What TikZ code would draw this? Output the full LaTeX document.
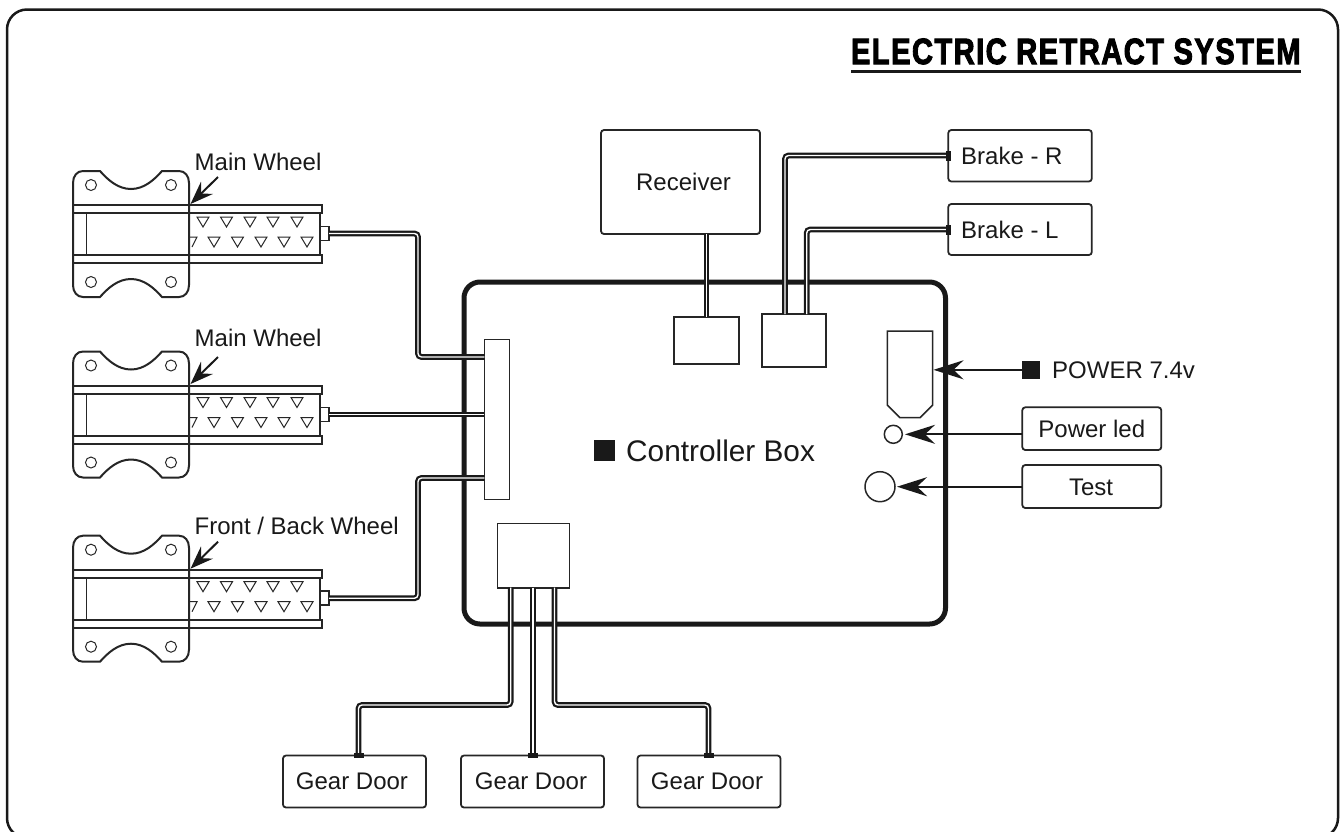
\documentclass[tikz,border=0pt]{standalone}
\usepackage{fontspec}
\setmainfont{Liberation Sans}
\usetikzlibrary{arrows.meta}
\tikzset{
  x=1pt,y=-1pt,
  lbl/.style={font=\fontsize{24}{26}\selectfont,inner sep=0pt,text=black!90},
  rbox/.style={draw=black!85,line width=1.8pt,rounded corners=3pt,inner sep=0pt,outer sep=0pt},
  sqbox/.style={draw=black!85,line width=1.5pt,inner sep=0pt,outer sep=0pt},
  wire/.style={draw=black!90,line width=2.2pt,double=white,double distance=1.4pt,rounded corners=3.5pt},
  vplug/.style={fill=black!90,inner sep=0pt,minimum width=5pt,minimum height=10pt},
  hplug/.style={fill=black!90,inner sep=0pt,minimum width=10pt,minimum height=5pt},
  arr/.style={draw=black!90,line width=2pt,-{Stealth[length=30pt,width=19pt,inset=10pt]}},
  warr/.style={draw=black!90,line width=2pt,-{Stealth[length=23pt,width=17pt,inset=8pt]}},
}
\newcommand{\wheelunit}[1]{%
\begin{scope}[shift={(0,#1)},black!85]
  \draw[line width=2pt] (83,171) -- (100,171) .. controls (108,180) and (118,189) .. (131,189) .. controls (144,189) and (154,180) .. (162,171) -- (179,171) .. controls (185,171) and (189,176) .. (189,183)
    -- (189,285) .. controls (189,292) and (185,297) .. (179,297) -- (162,297) .. controls (154,288) and (144,279) .. (131,279) .. controls (118,279) and (108,288) .. (100,297) -- (83,297) .. controls (77,297) and (73,292) .. (73,285) -- (73,183) .. controls (73,176) and (77,171) .. (83,171) -- cycle;
  \foreach \cx/\cy in {91/185,171/185,91/282,171/282} \draw[line width=1pt] (\cx,\cy) circle[radius=5.5];
  \draw[line width=2pt] (73,205) rectangle (322,213);
  \draw[line width=2pt] (73,255) rectangle (322,263);
  \draw[line width=1.5pt] (320,213) -- (320,255);
  \draw[line width=0.8pt] (86,213) -- (86,255);
  \foreach \tx in {203,226.5,250,273,297} \draw[line width=1pt] (\tx-6,217) -- (\tx+6,217) -- (\tx,227) -- cycle;
  \foreach \tx in {214,237.5,261,284,307} \draw[line width=1pt] (\tx-6,237) -- (\tx+6,237) -- (\tx,247) -- cycle;
  \draw[line width=1pt] (190,237) -- (197,237) -- (192,247);
\end{scope}}
\begin{document}
\begin{tikzpicture}
\useasboundingbox (0,0) rectangle (1340,831);
\fill[white] (0,0) rectangle (1340,831);
\begin{scope}
\clip (0,0) rectangle (1340,831);
\draw[black!90,line width=2.5pt,rounded corners=20pt] (7,9.5) rectangle (1338,838);
\end{scope}

% title
\node[anchor=north west,inner sep=0pt,outer sep=0pt] (title) at (851,38.5) {\resizebox{449.5pt}{25.5pt}{\addfontfeature{FakeBold=3,LetterSpace=5}\bfseries ELECTRIC RETRACT SYSTEM}};
\draw[black!90,line width=2.5pt] (title.south west |- 0,71.4) -- (title.south east |- 0,71.4);

% controller
\draw[black!90,line width=5pt,rounded corners=16pt] (464,282) rectangle (945.5,624);

\wheelunit{0}
\wheelunit{180.5}
\wheelunit{364.7}

% nodes
\node[sqbox,anchor=north west,minimum width=25pt,minimum height=160pt] (conn) at (484.3,339.3) {};
\node[sqbox,anchor=north west,minimum width=72pt,minimum height=64.5pt] (low) at (497.3,523.3) {};
\node[sqbox,anchor=north west,minimum width=65pt,minimum height=47pt] (rx2) at (674,317) {};
\node[sqbox,anchor=north west,minimum width=64pt,minimum height=53pt] (br2) at (762,314) {};
\node[rbox,anchor=north west,minimum width=159pt,minimum height=104pt] (rx) at (601,130) {};
\node[lbl,anchor=center] at (683.5,182) {Receiver};
\node[rbox,anchor=north west,minimum width=143.5pt,minimum height=51.5pt] (brr) at (948.3,130) {};
\node[lbl,anchor=west] at (961,156) {Brake - R};
\node[rbox,anchor=north west,minimum width=143.5pt,minimum height=51pt] (brl) at (948.3,204) {};
\node[lbl,anchor=west] at (961,230) {Brake - L};
\node[rbox,anchor=north west,minimum width=139pt,minimum height=42.7pt,lbl] (pled) at (1022.3,407.3) {Power led};
\node[rbox,anchor=north west,minimum width=139pt,minimum height=43pt] (test) at (1022.3,465) {};
\node[lbl] at (1091,487) {Test};
\node[rbox,anchor=north west,minimum width=143pt,minimum height=52pt] (gd1) at (283,755.5) {};
\node[rbox,anchor=north west,minimum width=143pt,minimum height=52pt] (gd2) at (461,755.5) {};
\node[rbox,anchor=north west,minimum width=143pt,minimum height=52pt] (gd3) at (637.5,755.5) {};
\node[lbl] at (352,781) {Gear Door};
\node[lbl] at (531,781) {Gear Door};
\node[lbl] at (707,781) {Gear Door};

\node[fill=black!90,minimum size=18pt,inner sep=0pt,outer sep=0pt] (pw) at (1031.3,369.8) {};
\node[lbl,anchor=west] at (1052,369.8) {POWER 7.4v};
\node[fill=black!90,minimum size=21pt,inner sep=0pt] (cbs) at (604.5,450.5) {};
\node[lbl,anchor=west,font=\fontsize{29.8}{32}\selectfont] at (626,451) {Controller Box};

\node[circle,draw=black!85,line width=1.5pt,minimum size=18pt,inner sep=0pt,outer sep=0pt] (led) at (893.3,434.3) {};
\node[circle,draw=black!85,line width=1.5pt,minimum size=30pt,inner sep=0pt,outer sep=0pt] (tb) at (880,486.7) {};
\draw[black!85,line width=1.5pt] (887.3,331) -- (932.7,331) -- (932.7,405) -- (920,417.7) -- (900,417.7) -- (887.3,405) -- cycle;
\coordinate (sock) at (933.5,369.8);
\coordinate (ledin) at (905,434.3);
\coordinate (testin) at (897,486.7);

% arrows
\draw[arr] (pw.west) -- (sock);
\draw[arr] (pled.west |- ledin) -- (ledin);
\draw[arr] (test.west |- testin) -- (testin);

% wheel labels
\node[lbl,anchor=base west] (mw1) at (194.5,170.5) {Main Wheel};
\node[lbl,anchor=base west] (mw2) at (194.5,346) {Main Wheel};
\node[lbl,anchor=base west] (mw3) at (194.5,534) {Front / Back Wheel};
\coordinate (t1) at (190.5,204); \coordinate (t2) at (190.5,384); \coordinate (t3) at (190.5,568.7);
\coordinate (s1) at (218,177); \coordinate (s2) at (218,357); \coordinate (s3) at (218,541.7);
\draw[warr] (s1) -- (t1);
\draw[warr] (s2) -- (t2);
\draw[warr] (s3) -- (t3);

% wires
\foreach \n/\wy in {p1/233.5,p2/414.5,p3/598.2} {
  \node[sqbox,minimum width=9pt,minimum height=14pt,fill=white] (\n) at (324.5,\wy) {};
}
\draw[wire] (p1.east) -- (418,233.5) -- (418,357) -- (conn.west |- 0,357);
\draw[wire] (p2.east) -- (conn.west |- p2);
\draw[wire] (p3.east) -- (418,598.2) -- (418,478) -- (conn.west |- 0,478);

\draw[wire] (rx.south -| rx2.north) -- (rx2.north);
\draw[wire] (785,314) -- (785,155.5) -- (brr.west |- 0,155.5);
\draw[wire] (806.7,314) -- (806.7,229.5) -- (brr.west |- 0,229.5);
\node[vplug] at (brr.west |- 0,155.5) {};
\node[vplug] at (brl.west |- 0,229.5) {};

\draw[wire] (510.7,587.7) -- (510.7,705) -- (358.5,705) -- (358.5,755.5);
\draw[wire] (532.8,587.7) -- (532.8,755.5);
\draw[wire] (554.5,587.7) -- (554.5,705) -- (708.5,705) -- (708.5,755.5);
\node[hplug] at (358.5,755.5) {};
\node[hplug] at (532.8,755.5) {};
\node[hplug] at (708.5,755.5) {};
\end{tikzpicture}
\end{document}
